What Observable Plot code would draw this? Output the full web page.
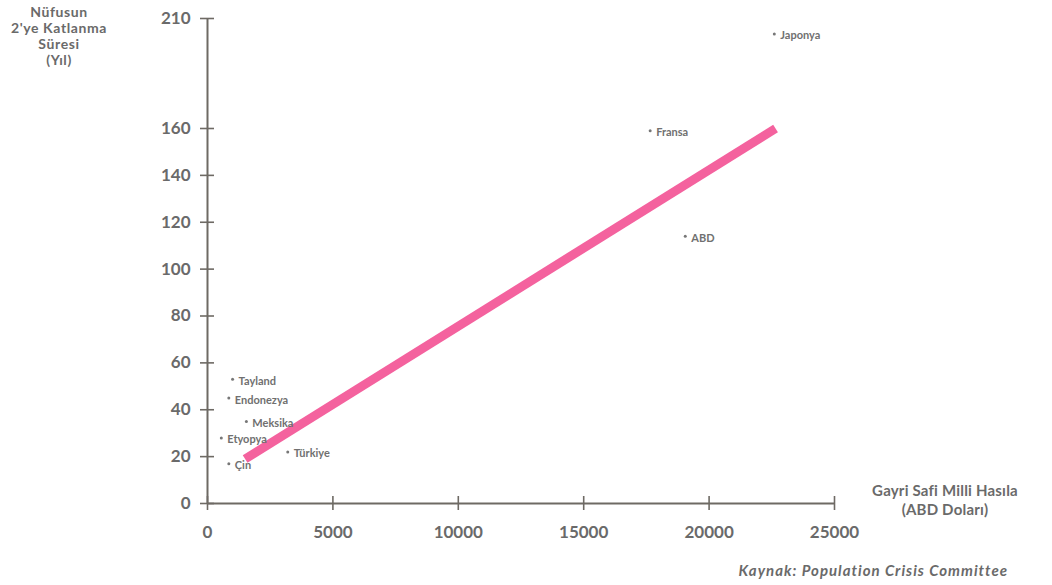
<!DOCTYPE html>
<html>
<head>
<meta charset="utf-8">
<script src="https://cdn.jsdelivr.net/npm/d3@7"></script>
<script src="https://cdn.jsdelivr.net/npm/@observablehq/plot@0.6"></script>
<style>
  body { margin: 0; background: #fff; }
  #wrap { position: relative; width: 1052px; height: 585px; font-family: Lato, "DejaVu Sans", sans-serif; color: #6a6a6a; }
  #wrap svg { position: absolute; left: 0; top: 0; }
  .ytitle { position: absolute; left: 0; top: 4px; width: 118px; text-align: center; font-size: 14px; font-weight: 700; line-height: 16px; letter-spacing: 0.6px; }
  .xtitle { position: absolute; left: 860px; top: 481px; width: 170px; text-align: center; font-size: 15px; font-weight: 700; line-height: 19px; letter-spacing: 0.2px; }
  .caption { position: absolute; right: 44px; top: 561px; font-size: 15px; font-weight: 700; font-style: italic; letter-spacing: 1px; white-space: nowrap; }
</style>
</head>
<body>
<div id="wrap">
  <div class="ytitle">Nüfusun<br>2'ye Katlanma<br>Süresi<br>(Yıl)</div>
  <div class="xtitle">Gayri Safi Milli Hasıla<br>(ABD Doları)</div>
  <div class="caption">Kaynak: Population Crisis Committee</div>
</div>
<script>
const countries = ["Tayland", "Endonezya", "Meksika", "Etyopya", "Çin", "Türkiye", "Fransa", "ABD", "Japonya"];
const gnp = [1000, 850, 1550, 550, 850, 3200, 17650, 19050, 22600];
const doubling = [53, 45, 35, 28, 17, 22, 159, 114, 203];
const trendX = [1500, 22650];
const trendY = [19, 160];
const xTicks = [0, 5000, 10000, 15000, 20000, 25000];
const yTicks = [0, 20, 40, 60, 80, 100, 120, 140, 160, 210];

const points = countries.map((c, i) => ({name: c, x: gnp[i], y: doubling[i]}));
const trend = trendX.map((x, i) => ({x, y: trendY[i]}));

const axisColor = "#6e6a64";
const textColor = "#6a6a6a";

const chart = Plot.plot({
  width: 1052,
  height: 585,
  marginLeft: 207,
  marginRight: 218,
  marginTop: 18,
  marginBottom: 82,
  style: {fontFamily: "Lato, 'DejaVu Sans', sans-serif", background: "transparent", color: textColor},
  x: {domain: [0, 25000], label: null},
  y: {type: "linear", domain: [0, 160, 210], range: [503, 128, 18], label: null},
  marks: [
    Plot.ruleX([0], {y1: 0, y2: 210, stroke: axisColor, strokeWidth: 2}),
    Plot.ruleY([0], {x1: 0, x2: 25000, stroke: axisColor, strokeWidth: 2}),
    Plot.axisY({ticks: yTicks, tickSize: 14, dx: 7, text: null, label: null, stroke: axisColor, strokeWidth: 1.6}),
    Plot.axisY({ticks: yTicks, tickSize: 0, tickPadding: 17, label: null, fontSize: 17, fontWeight: 700, fill: textColor, tickFormat: d => String(d)}),
    Plot.axisX({ticks: xTicks, tickSize: 14, dy: -7, text: null, label: null, stroke: axisColor, strokeWidth: 1.6}),
    Plot.axisX({ticks: xTicks, tickSize: 0, tickPadding: 22, label: null, fontSize: 17, fontWeight: 700, fill: textColor, tickFormat: d => String(d)}),
    Plot.line(trend, {x: "x", y: "y", stroke: "#f4629e", strokeWidth: 9, strokeLinecap: "butt"}),
    Plot.dot(points, {x: "x", y: "y", r: 1.5, fill: "#777", stroke: null}),
    Plot.text(points, {x: "x", y: "y", text: "name", textAnchor: "start", dx: 6, dy: 2, fontSize: 11, fontWeight: 700, fill: "#707070"})
  ]
});
document.getElementById("wrap").prepend(chart);
</script>
</body>
</html>
